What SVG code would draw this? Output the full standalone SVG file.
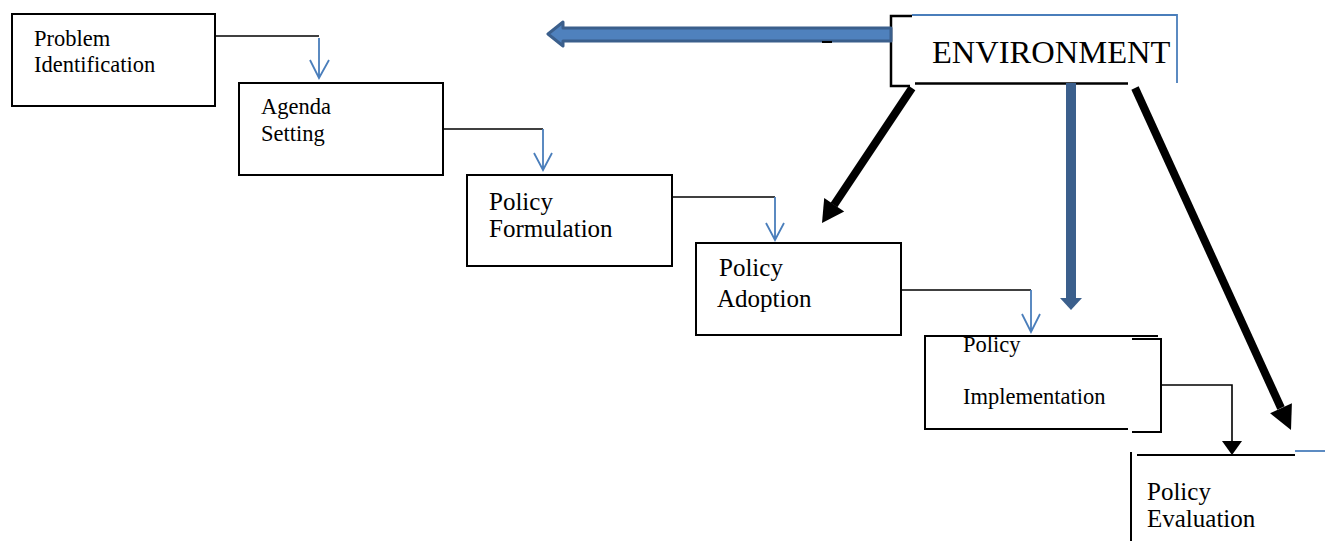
<svg xmlns="http://www.w3.org/2000/svg" width="1325" height="541" viewBox="0 0 1325 541">
<style>
.box{fill:none;stroke:#000;stroke-width:2}
.t{font-family:"Liberation Serif","Times New Roman",serif;fill:#000}
.s{font-size:22.5px}
.m{font-size:25px}
.k{fill:none;stroke:#000;stroke-width:1.6}
.b{fill:none;stroke:#4a7ebb;stroke-width:1.8}
.thick{stroke:#000;stroke-width:8;fill:none}
</style>
<rect width="1325" height="541" fill="#fff"/>
<g id="problem-identification">
<rect class="box" x="12" y="14" width="203" height="92"/>
<text class="t s" x="34" y="46">Problem</text>
<text class="t s" x="34" y="72">Identification</text>
</g>
<g id="agenda-setting">
<rect class="box" x="239" y="83" width="204" height="92"/>
<text class="t s" x="261" y="114">Agenda</text>
<text class="t s" x="261" y="141">Setting</text>
</g>
<g id="policy-formulation">
<rect class="box" x="467" y="175" width="205" height="91"/>
<text class="t m" x="489" y="210">Policy</text>
<text class="t m" x="489" y="237">Formulation</text>
</g>
<g id="policy-adoption">
<rect class="box" x="696" y="243" width="205" height="92"/>
<text class="t m" x="719" y="276">Policy</text>
<text class="t m" x="717" y="307">Adoption</text>
</g>
<g id="policy-implementation">
<path class="box" d="M1158,336 H925 V429 H1128 M1132,339 H1161 V432 H1132"/>
<text class="t s" x="963" y="352">Policy</text>
<text class="t s" x="963" y="404">Implementation</text>
</g>
<g id="policy-evaluation">
<path class="box" d="M1131,452 V541 M1137,455 H1295"/>
<path d="M1295,451 H1325" stroke="#4a7ebb" stroke-width="1.8" fill="none"/>
<text class="t m" x="1147" y="500">Policy</text>
<text class="t m" x="1147" y="527">Evaluation</text>
</g>
<g id="environment">
<path d="M910,86 H891 V16 H912" fill="none" stroke="#000" stroke-width="2.5"/>
<path d="M912,15 H1177 V83" fill="none" stroke="#4a7ebb" stroke-width="1.8"/>
<path d="M915,83.5 H1128" fill="none" stroke="#000" stroke-width="2.5"/>
<text class="t" x="932" y="63" font-size="32.5">ENVIRONMENT</text>
</g>
<g id="connectors">
<path class="k" d="M215,36 H319"/>
<path class="b" d="M319,38 V78 M310,60 L319,78 L329,60"/>
<path class="k" d="M443,129 H543"/>
<path class="b" d="M543,129 V170 M534,153 L543,170 L552,153"/>
<path class="k" d="M672,197 H775"/>
<path class="b" d="M775,197 V240 M766,223 L775,240 L784,223"/>
<path class="k" d="M901,290 H1031"/>
<path class="b" d="M1031,290 V332 M1022,314 L1031,332 L1040,314"/>
<path class="k" d="M1161,385 H1232 V442"/>
<polygon points="1222,441 1242,441 1232,455" fill="#000"/>
<path d="M891,28 L563,28 L563,22 L548,34 L563,46 L563,41 L891,41 Z" fill="#4f81bd" stroke="#3b5f8c" stroke-width="3" stroke-linejoin="round"/>
<path d="M822,42 H832" stroke="#000" stroke-width="2"/>
<rect x="1066" y="83" width="10" height="216" fill="#3b5f8c"/>
<polygon points="1060,298 1082,298 1071,310" fill="#3b5f8c"/>
<line class="thick" x1="912" y1="88" x2="834" y2="205"/>
<polygon points="822,223 844.2,211.4 824.2,198" fill="#000"/>
<line class="thick" x1="1135" y1="88" x2="1281" y2="408"/>
<polygon points="1291,430 1291.9,403.2 1270.1,413.2" fill="#000"/>
</g>
</svg>
